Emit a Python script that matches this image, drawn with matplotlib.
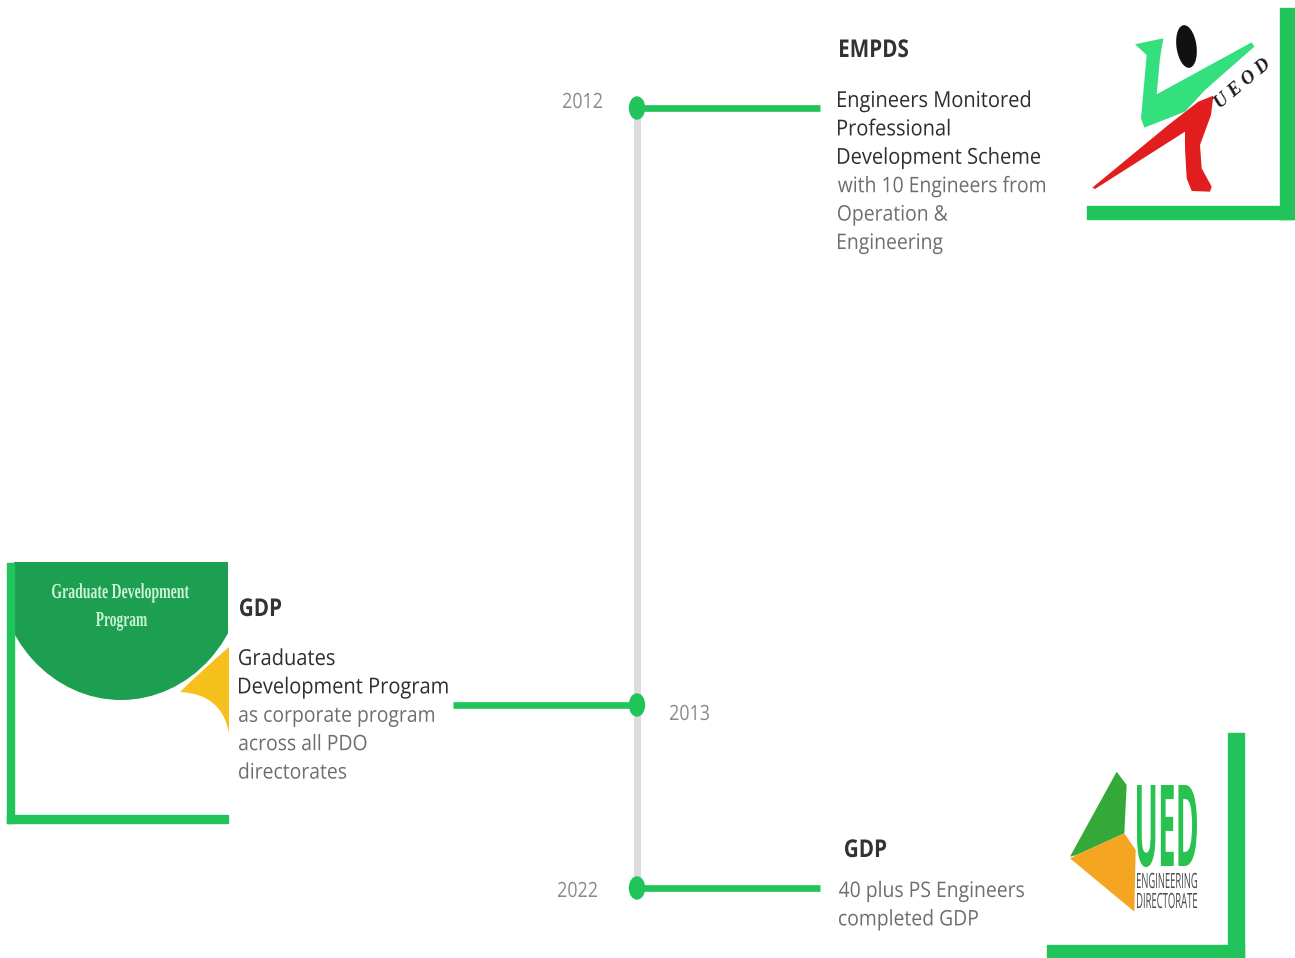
import matplotlib
matplotlib.use("Agg")
import matplotlib.pyplot as plt
import matplotlib.patheffects as pe
from matplotlib.patches import Rectangle, Ellipse, Polygon, PathPatch
from matplotlib.path import Path
from matplotlib.textpath import TextPath
from matplotlib.font_manager import FontProperties
from matplotlib.transforms import Affine2D

DPI = 100
GREEN = "#20c45a"
DARK_GREEN = "#1c9f50"
YELLOW = "#f6c11c"
SPINE = "#dcdcdc"
DARK_TEXT = "#2e2e2e"
GREY_TEXT = "#6e6e6e"
YEAR_TEXT = "#8a8a8a"

# timeline content
years = ["2012", "2013", "2022"]
titles = ["EMPDS", "GDP", "GDP"]
headlines = [["Engineers Monitored", "Professional", "Development Scheme"],
             ["Graduates", "Development Program"],
             []]
details = [["with 10 Engineers from", "Operation &", "Engineering"],
           ["as corporate program", "across all PDO", "directorates"],
           ["40 plus PS Engineers", "completed GDP"]]
sides = ["right", "left", "right"]

# layout, in pixels of the 1295x958 canvas
event_y = [108, 705, 888]
spine_x = 637
stub_end = {"right": 820, "left": 453}
title_pos = [(840, 57), (240, 616), (845, 857)]
body_pos = [(838, 107), (239, 665), (839, 897)]
year_pos = [(602, 108, "right"), (670, 720, "left"), (597, 897, "right")]
line_step = 28.4


class Squeeze(pe.AbstractPathEffect):
    """scale glyphs around the text origin (narrow web font look)"""

    def __init__(self, sx=1.0, sy=1.0):
        super().__init__()
        self.sx, self.sy = sx, sy

    def draw_path(self, renderer, gc, tpath, affine, rgbFace=None):
        renderer.draw_path(gc, tpath, Affine2D().scale(self.sx, self.sy) + affine, rgbFace)


def ink(s, fp, size):
    return TextPath((0, 0), s, size=size, prop=fp).get_extents()


def label(ax, x, base, s, cap, color, width=None, sx=None, fit=None, align="left",
          rotation=0, **font):
    fp = FontProperties(**font)
    h = ink("H", fp, 100).height / 100.0
    w1 = ink(s, fp, 100).width / 100.0
    if fit is not None:
        # pick the em so that the horizontal squeeze stays near `fit`
        size, sx = width / (w1 * fit), fit
    else:
        size = cap / h
        if width is not None:
            sx = width / (w1 * size)
    sx = sx or 1.0
    sy = cap / (h * size)
    ext = ink(s, fp, size)
    w = ext.width * sx
    left = {"left": x, "right": x - w, "center": x - w / 2}[align]
    fp.set_size(size * 72.0 / DPI)
    ax.text(left - ext.x0 * sx, base, s, fontproperties=fp, color=color, ha="left",
            va="baseline", rotation=rotation, path_effects=[Squeeze(sx, sy)], zorder=6)


def squeeze_for(s, cap, width, **font):
    fp = FontProperties(**font)
    size = cap / (ink("H", fp, 100).height / 100.0)
    return width / ink(s, fp, size).width


def from_zoom(pts, ox, oy):
    return [(ox + px / 3.0, oy + py / 3.0) for px, py in pts]


fig = plt.figure(figsize=(12.95, 9.58), dpi=DPI)
ax = fig.add_axes([0, 0, 1, 1])
ax.set_xlim(0, 1295)
ax.set_ylim(958, 0)
ax.axis("off")

body_font = dict(family="Open Sans")
sx_dark = squeeze_for("Engineers Monitored", 15.7, 192, **body_font)
sx_grey = squeeze_for("with 10 Engineers from", 15.3, 207, **body_font)
sx_title = squeeze_for("EMPDS", 18, 70, family="Open Sans", weight="bold")
sx_year = squeeze_for("2012", 15, 39, **body_font)

# timeline spine
ax.plot([spine_x, spine_x], [event_y[0], event_y[-1]], color=SPINE, lw=5, zorder=2)

for i, yr in enumerate(years):
    y = event_y[i]
    ax.plot([spine_x, stub_end[sides[i]]], [y, y], color=GREEN, lw=4.8,
            solid_capstyle="butt", zorder=3)
    ax.add_patch(Ellipse((spine_x, y), 15, 22, color=GREEN, zorder=4))

    yx, yb, al = year_pos[i]
    label(ax, yx, yb, yr, 15, YEAR_TEXT, sx=sx_year, align=al, **body_font)

    tx, tb = title_pos[i]
    label(ax, tx, tb, titles[i], 17.5, "#333333", sx=sx_title, family="Open Sans",
          weight="bold")

    bx, bb = body_pos[i]
    n = 0
    for line in headlines[i]:
        label(ax, bx, bb + n * line_step, line, 15.7, DARK_TEXT, sx=sx_dark, **body_font)
        n += 1
    for line in details[i]:
        label(ax, bx, bb + n * line_step, line, 15.3, GREY_TEXT, sx=sx_grey, **body_font)
        n += 1

# ---- left picture: Graduate Development Program badge
clip = Rectangle((14, 562), 214, 253, transform=ax.transData)
verts = [(229, 647), (200, 672), (180, 692), (222, 694), (229, 733), (229, 647)]
codes = [Path.MOVETO, Path.CURVE3, Path.CURVE3, Path.CURVE3, Path.CURVE3, Path.CLOSEPOLY]
ax.add_patch(PathPatch(Path(verts, codes), facecolor=YELLOW, edgecolor="none", zorder=3))
badge = Ellipse((121, 562), 250, 276, facecolor=DARK_GREEN, edgecolor="none", zorder=4)
ax.add_patch(badge)
badge.set_clip_path(clip)
ax.add_patch(Rectangle((7, 563), 7, 260, color=GREEN, zorder=5))
ax.add_patch(Rectangle((7, 815), 221, 8, color=GREEN, zorder=5))
label(ax, 52, 598, "Graduate Development", 14, "#cdf3d6", width=137, fit=0.95,
      family="Liberation Serif", weight="bold")
label(ax, 96, 626, "Program", 14, "#cdf3d6", width=51, fit=0.95,
      family="Liberation Serif", weight="bold")

# ---- top right picture: UEOD logo (shapes, 3x grid)
ax.add_patch(Rectangle((1087, 206), 208, 13, color=GREEN, zorder=5))
ax.add_patch(Rectangle((1280, 8), 15, 211, color=GREEN, zorder=5))
figure_green = [(150, 118), (235, 100), (225, 160), (215, 268), (500, 112), (508, 125),
                (360, 255), (300, 320), (178, 368), (168, 340), (185, 150)]
figure_red = [(340, 290), (385, 272), (378, 330), (345, 420), (350, 490), (380, 545),
              (375, 560), (320, 558), (305, 520), (300, 430), (300, 380), (30, 552),
              (22, 548), (250, 360)]
ax.add_patch(Polygon(from_zoom(figure_green, 1085, 5), closed=True,
                     facecolor="#34e07e", edgecolor="none", zorder=4))
ax.add_patch(Polygon(from_zoom(figure_red, 1085, 5), closed=True,
                     facecolor="#e11d1d", edgecolor="none", zorder=4))
ax.add_patch(Ellipse((1186.5, 46.5), 20, 43, angle=-8, facecolor="#111111",
                     edgecolor="none", zorder=5))
ax.text(1243, 84, "U E O D", family="Liberation Serif", style="italic", weight="bold",
        fontsize=13.5, color="#1a1a1a", rotation=40, ha="center", va="center", zorder=6)

# ---- bottom right picture: UED engineering directorate logo
ax.add_patch(Rectangle((1228, 733), 16, 225, color=GREEN, zorder=5))
ax.add_patch(Rectangle((1047, 945), 197, 13, color=GREEN, zorder=5))
tri_green = [(215, 155), (245, 195), (238, 340), (95, 405), (75, 410)]
tri_orange = [(95, 405), (238, 340), (272, 390), (268, 575), (75, 415)]
ax.add_patch(Polygon(from_zoom(tri_green, 1045, 720), closed=True,
                     facecolor="#35a83a", edgecolor="none", zorder=4))
ax.add_patch(Polygon(from_zoom(tri_orange, 1045, 720), closed=True,
                     facecolor="#f4a622", edgecolor="none", zorder=4))
label(ax, 1137, 866, "UED", 81, "#27c24f", width=60, fit=0.9,
      family="Open Sans", weight="bold")
label(ax, 1137, 888, "ENGINEERING", 15, "#4a4a4a", width=60, fit=0.9, family="Open Sans")
label(ax, 1137, 908, "DIRECTORATE", 15, "#4a4a4a", width=60, fit=0.9, family="Open Sans")

fig.savefig("out.png", dpi=DPI, facecolor="white")
